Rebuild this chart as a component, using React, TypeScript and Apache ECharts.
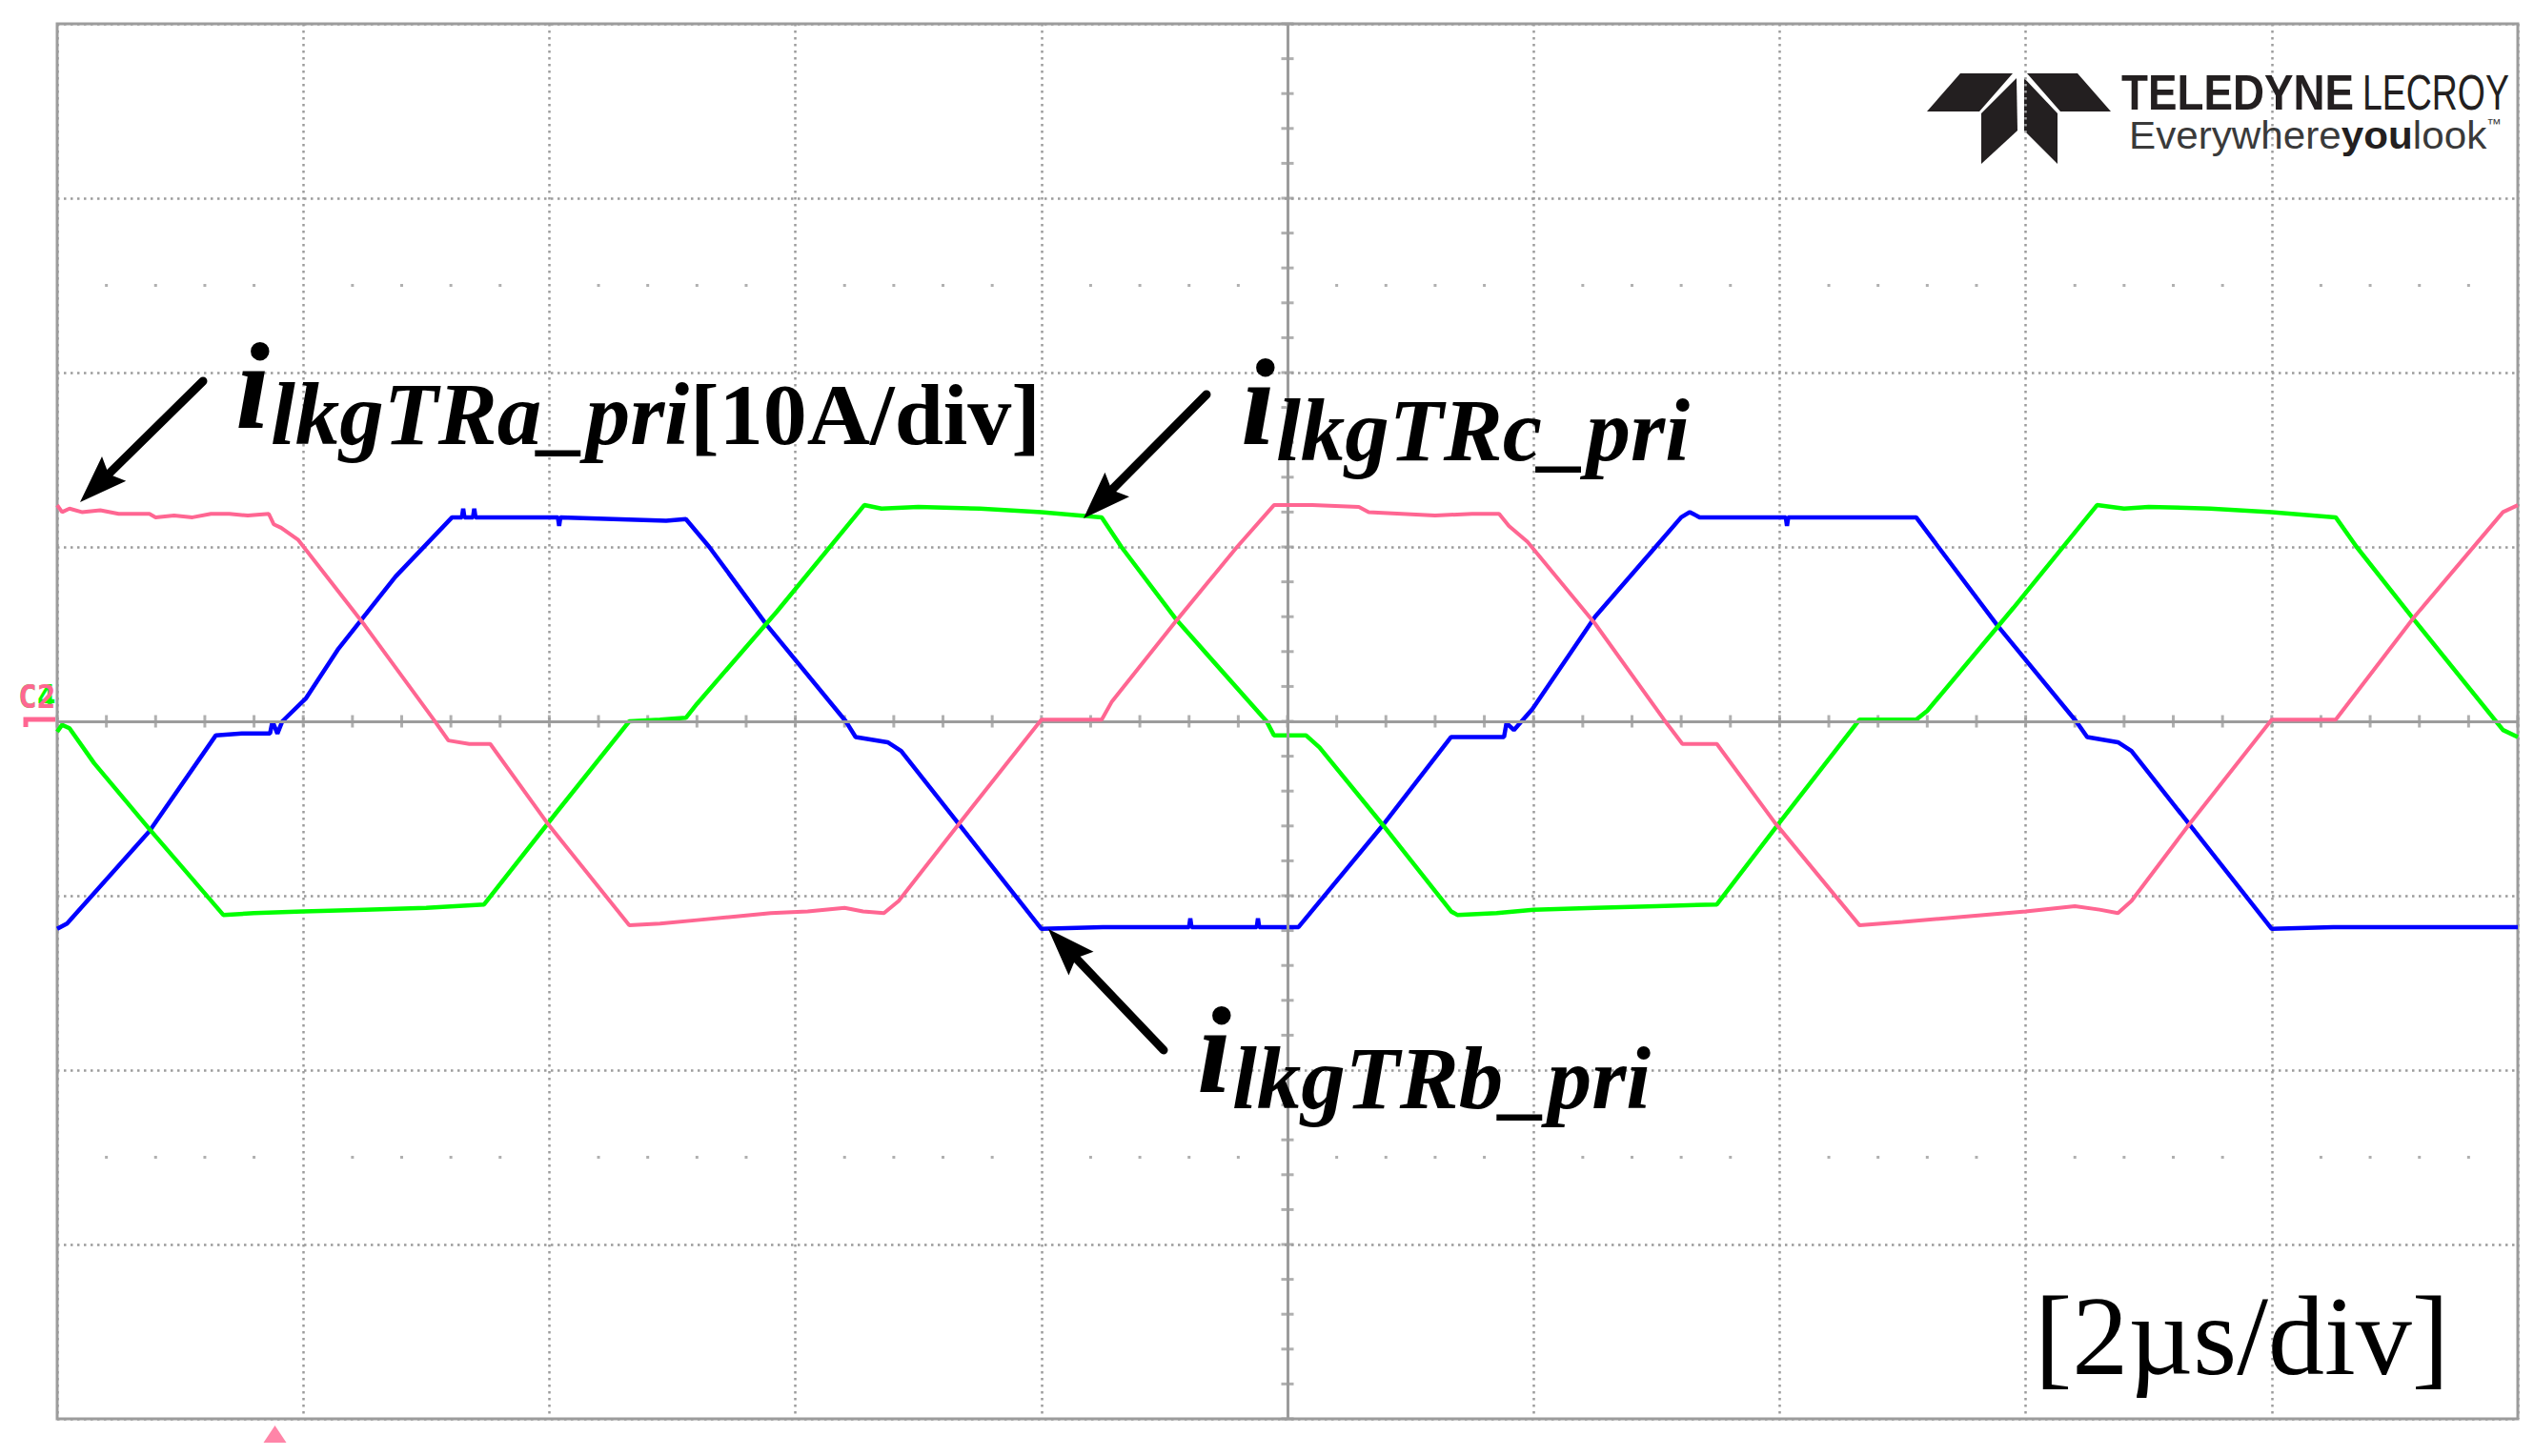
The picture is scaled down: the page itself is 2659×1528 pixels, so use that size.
import React, { useEffect, useRef } from "react";
import * as echarts from "echarts";

// time in µs (2 µs/div), current in A (10 A/div)
const X_MIN = 0;
const X_MAX = 20;
const X_STEP = 2;
const Y_MIN = -40;
const Y_MAX = 40;
const Y_STEP = 10;

const iA_pri: [number, number][] = [
  [0.0, 12.4], [0.04, 12.0], [0.1, 12.2], [0.2, 12.0], [0.35, 12.1], [0.5, 11.9], [0.75, 11.9], [0.8, 11.7],
  [0.95, 11.8], [1.1, 11.7], [1.25, 11.9], [1.4, 11.9], [1.55, 11.8], [1.72, 11.9], [1.76, 11.3], [1.82, 11.1],
  [1.96, 10.4], [2.5, 5.5], [3.06, 0.1], [3.18, -1.1], [3.35, -1.3], [3.52, -1.3], [3.98, -5.8], [4.65, -11.7],
  [4.9, -11.6], [5.2, -11.4], [5.5, -11.2], [5.8, -11.0], [6.1, -10.9], [6.4, -10.7], [6.55, -10.9], [6.72, -11.0],
  [6.84, -10.3], [7.35, -5.7], [8.0, 0.1], [8.49, 0.1], [8.57, 1.1], [9.1, 5.8], [9.59, 10.0], [9.89, 12.4],
  [10.2, 12.4], [10.58, 12.3], [10.66, 12.0], [11.2, 11.8], [11.5, 11.9], [11.72, 11.9], [11.8, 11.2], [11.95, 10.3],
  [12.5, 5.6], [13.06, 0.1], [13.21, -1.3], [13.49, -1.3], [13.96, -5.8], [14.65, -11.7], [15.0, -11.5], [15.5, -11.2],
  [16.0, -10.9], [16.4, -10.6], [16.6, -10.8], [16.75, -11.0], [16.86, -10.3], [17.33, -5.9], [18.0, 0.1], [18.52, 0.1],
  [19.16, 6.0], [19.88, 12.0], [20.0, 12.4],
];

const iB_pri: [number, number][] = [
  [0.0, -11.9], [0.08, -11.6], [0.75, -6.3], [1.29, -0.8], [1.5, -0.7], [1.73, -0.7], [1.75, 0.0], [1.79, -0.7],
  [1.83, 0.0], [2.02, 1.3], [2.28, 4.1], [2.75, 8.3], [3.21, 11.7], [3.29, 11.7], [3.3, 12.2], [3.31, 11.7],
  [3.38, 11.7], [3.39, 12.2], [3.4, 11.7], [4.07, 11.7], [4.08, 11.2], [4.09, 11.7], [4.95, 11.5], [5.11, 11.6],
  [5.3, 10.0], [5.77, 5.5], [6.41, 0.0], [6.49, -0.9], [6.75, -1.2], [6.86, -1.7], [8.0, -11.9], [8.5, -11.8],
  [9.2, -11.8], [9.21, -11.3], [9.22, -11.8], [9.75, -11.8], [9.76, -11.3], [9.77, -11.8], [10.09, -11.8], [10.77, -6.0],
  [11.33, -0.9], [11.76, -0.9], [11.78, -0.1], [11.84, -0.5], [11.99, 0.7], [12.5, 6.0], [12.98, 9.9], [13.2, 11.7],
  [13.27, 12.0], [13.35, 11.7], [14.05, 11.7], [14.06, 11.2], [14.07, 11.7], [15.11, 11.7], [15.29, 10.0], [15.77, 5.5],
  [16.41, 0.0], [16.5, -0.9], [16.75, -1.2], [16.86, -1.7], [18.0, -11.9], [18.5, -11.8], [20.0, -11.8],
];

const iC_pri: [number, number][] = [
  [0.0, -0.6], [0.04, -0.2], [0.1, -0.4], [0.3, -2.4], [0.74, -6.1], [1.35, -11.1], [1.6, -11.0], [2.0, -10.9],
  [2.5, -10.8], [3.0, -10.7], [3.47, -10.5], [4.05, -5.3], [4.65, 0.0], [4.9, 0.1], [5.11, 0.2], [5.2, 1.0],
  [5.85, 6.3], [6.56, 12.4], [6.7, 12.2], [7.0, 12.3], [7.5, 12.2], [8.0, 12.0], [8.49, 11.7], [8.65, 10.0],
  [9.1, 5.8], [9.83, 0.0], [9.89, -0.8], [10.15, -0.8], [10.26, -1.5], [10.77, -5.9], [11.33, -10.9], [11.38, -11.1],
  [11.7, -11.0], [12.0, -10.8], [12.5, -10.7], [13.0, -10.6], [13.49, -10.5], [14.0, -5.8], [14.65, 0.1], [15.11, 0.1],
  [15.2, 0.6], [15.9, 6.5], [16.58, 12.4], [16.8, 12.2], [17.0, 12.3], [17.5, 12.2], [18.0, 12.0], [18.52, 11.7],
  [18.69, 10.0], [19.16, 5.8], [19.88, -0.5], [20.0, -0.9],
];

const TRIGGER_TIME = 1.77;
const DOT_ROWS = [25, -25];

const GRID = { left: 60, top: 25, width: 2582, height: 1464 };
const GRAY = "#9c9c9c";
const PINK = "#ff6692";
const BLUE = "#0000ff";
const GREEN = "#00ff00";

function arrow(sx: number, sy: number, tx: number, ty: number) {
  const dx = tx - sx;
  const dy = ty - sy;
  const L = Math.hypot(dx, dy);
  const ux = dx / L;
  const uy = dy / L;
  const px = -uy;
  const py = ux;
  const headLen = 50;
  const half = 18;
  const bx = tx - ux * headLen;
  const by = ty - uy * headLen;
  return [
    {
      type: "line",
      z: 100,
      shape: { x1: sx, y1: sy, x2: bx + ux * 6, y2: by + uy * 6 },
      style: { stroke: "#000", lineWidth: 9, lineCap: "round" },
    },
    {
      type: "polygon",
      z: 100,
      shape: {
        points: [
          [tx, ty],
          [bx + px * half, by + py * half],
          [bx + ux * 8, by + uy * 8],
          [bx - px * half, by - py * half],
        ],
      },
      style: { fill: "#000" },
    },
  ];
}

const SERIF = '"Liberation Serif", "Times New Roman", serif';
const SANS = '"Liberation Sans", Arial, sans-serif';

function bi(text: string, x: number, baseline: number, size: number) {
  return {
    type: "text",
    z: 100,
    x,
    y: baseline - 0.3375 * size,
    style: {
      text,
      fill: "#000",
      font: `italic bold ${size}px ${SERIF}`,
      textAlign: "left",
      verticalAlign: "middle",
    },
  };
}

function label(name: string, x: number, baseline: number) {
  return [bi("i", x, baseline, 130), bi(name, x + 37, baseline + 17, 93)];
}

export default function App() {
  const ref = useRef<HTMLDivElement>(null);
  useEffect(() => {
    if (!ref.current) return;
    const chart = echarts.init(ref.current, undefined, { renderer: "svg" });

    const xTicks: [number, number][] = [];
    for (let x = X_MIN; x <= X_MAX + 1e-9; x += 0.4) xTicks.push([+x.toFixed(2), 0]);
    const yTicks: [number, number][] = [];
    for (let y = Y_MIN; y <= Y_MAX + 1e-9; y += 2) yTicks.push([10, y]);
    const dots: [number, number][] = [];
    for (const r of DOT_ROWS) {
      for (let x = 0.4; x < X_MAX; x += 0.4) {
        const xv = +x.toFixed(2);
        if (Math.abs(xv / 2 - Math.round(xv / 2)) > 1e-6) dots.push([xv, r]);
      }
    }

    const T = (sz: number, b: number) => b - 0.3465 * sz;

    const graphic: any[] = [
      ...arrow(213, 400, 84, 527),
      ...arrow(1266, 414, 1137, 544),
      ...arrow(1221, 1102, 1100, 975),
      ...label("lkgTRa_pri", 247, 449),
      {
        type: "text",
        z: 100,
        x: 724,
        y: 466 - 0.3375 * 92,
        style: { text: "[10A/div]", fill: "#000", font: `bold 92px ${SERIF}`, verticalAlign: "middle" },
      },
      ...label("lkgTRc_pri", 1302, 466),
      ...label("lkgTRb_pri", 1256, 1146),
      {
        type: "text",
        z: 100,
        x: 2135,
        y: 1442 - 0.3375 * 118,
        style: { text: "[2µs/div]", fill: "#000", font: `118px ${SERIF}`, verticalAlign: "middle" },
      },
      // Teledyne LeCroy logo
      {
        type: "group",
        z: 100,
        children: [
          { type: "polygon", shape: { points: [[2022, 117], [2057, 77], [2112, 77], [2077, 117]] }, style: { fill: "#231f20" } },
          { type: "polygon", shape: { points: [[2079, 119], [2116, 82], [2117, 137], [2079, 172]] }, style: { fill: "#231f20" } },
          { type: "polygon", shape: { points: [[2124, 82], [2159, 119], [2159, 172], [2124, 137]] }, style: { fill: "#231f20" } },
          { type: "polygon", shape: { points: [[2127, 77], [2180, 77], [2215, 117], [2162, 117]] }, style: { fill: "#231f20" } },
        ],
      },
      {
        type: "text",
        z: 100,
        x: 2226,
        y: T(52, 115),
        scaleX: 0.88,
        style: { text: "TELEDYNE", fill: "#231f20", font: `bold 52px ${SANS}`, verticalAlign: "middle" },
      },
      {
        type: "text",
        z: 100,
        x: 2479,
        y: T(52, 115),
        scaleX: 0.72,
        style: { text: "LECROY", fill: "#231f20", font: `52px ${SANS}`, verticalAlign: "middle" },
      },
      {
        type: "text",
        z: 100,
        x: 2234,
        y: T(40, 156),
        scaleX: 1.055,
        style: {
          text: "{a|Everywhere}{b|you}{a|look}{t|™}",
          verticalAlign: "middle",
          rich: {
            a: { font: `40px ${SANS}`, fill: "#3a3a3a" },
            b: { font: `bold 40px ${SANS}`, fill: "#231f20" },
            t: { font: `15px ${SANS}`, fill: "#3a3a3a", verticalAlign: "top", padding: [0, 0, 20, 0] },
          },
        },
      },
      // channel markers at left
      {
        type: "text",
        z: 100,
        x: 19,
        y: 731,
        style: { text: "C4", fill: GREEN, font: `bold 33px "DejaVu Sans Mono", monospace`, verticalAlign: "middle" },
      },
      {
        type: "text",
        z: 101,
        x: 19,
        y: 731,
        style: { text: "C2", fill: PINK, font: `bold 33px "DejaVu Sans Mono", monospace`, verticalAlign: "middle" },
      },
      {
        type: "polyline",
        z: 100,
        shape: { points: [[27, 763], [27, 755], [58, 755]] },
        style: { stroke: PINK, lineWidth: 5, fill: "none" },
      },
    ];

    chart.setOption({
      animation: false,
      backgroundColor: "#ffffff",
      grid: {
        ...GRID,
        show: true,
        borderColor: GRAY,
        borderWidth: 3,
        backgroundColor: "transparent",
      },
      xAxis: {
        type: "value",
        min: X_MIN,
        max: X_MAX,
        interval: X_STEP,
        axisLine: { show: false },
        axisTick: { show: false },
        axisLabel: { show: false },
        splitLine: { show: true, lineStyle: { color: GRAY, width: 2.5, type: [2.5, 4.5] } },
      },
      yAxis: {
        type: "value",
        min: Y_MIN,
        max: Y_MAX,
        interval: Y_STEP,
        axisLine: { show: false },
        axisTick: { show: false },
        axisLabel: { show: false },
        splitLine: { show: true, lineStyle: { color: GRAY, width: 2.5, type: [2.5, 4.5] } },
      },
      graphic,
      series: [
        {
          type: "scatter",
          silent: true,
          data: dots,
          symbol: "rect",
          symbolSize: 3,
          itemStyle: { color: GRAY },
          z: 1,
        },
        {
          type: "scatter",
          silent: true,
          data: xTicks,
          symbol: "rect",
          symbolSize: [3, 13],
          itemStyle: { color: GRAY },
          z: 1,
          markLine: {
            silent: true,
            symbol: "none",
            label: { show: false },
            lineStyle: { color: GRAY, width: 3, type: "solid" },
            data: [{ xAxis: 10 }, { yAxis: 0 }],
          },
        },
        {
          type: "scatter",
          silent: true,
          data: yTicks,
          symbol: "rect",
          symbolSize: [13, 3],
          itemStyle: { color: GRAY },
          z: 1,
        },
        {
          type: "scatter",
          silent: true,
          data: [[TRIGGER_TIME, Y_MIN]],
          symbol: "triangle",
          symbolSize: [24, 18],
          symbolOffset: [0, 16],
          itemStyle: { color: PINK },
          z: 1,
        },
        {
          name: "ilkgTRb_pri",
          type: "line",
          data: iB_pri,
          showSymbol: false,
          symbol: "none",
          lineStyle: { color: BLUE, width: 4.5 },
          itemStyle: { color: BLUE },
          z: 3,
        },
        {
          name: "ilkgTRc_pri",
          type: "line",
          data: iC_pri,
          showSymbol: false,
          symbol: "none",
          lineStyle: { color: GREEN, width: 4.5 },
          itemStyle: { color: GREEN },
          z: 4,
        },
        {
          name: "ilkgTRa_pri",
          type: "line",
          data: iA_pri,
          showSymbol: false,
          symbol: "none",
          lineStyle: { color: PINK, width: 4 },
          itemStyle: { color: PINK },
          z: 5,
        },
      ],
    });
    return () => chart.dispose();
  }, []);

  return (
    <div
      ref={ref}
      style={{ position: "fixed", left: 0, top: 0, width: 2659, height: 1528, background: "#fff" }}
    />
  );
}
